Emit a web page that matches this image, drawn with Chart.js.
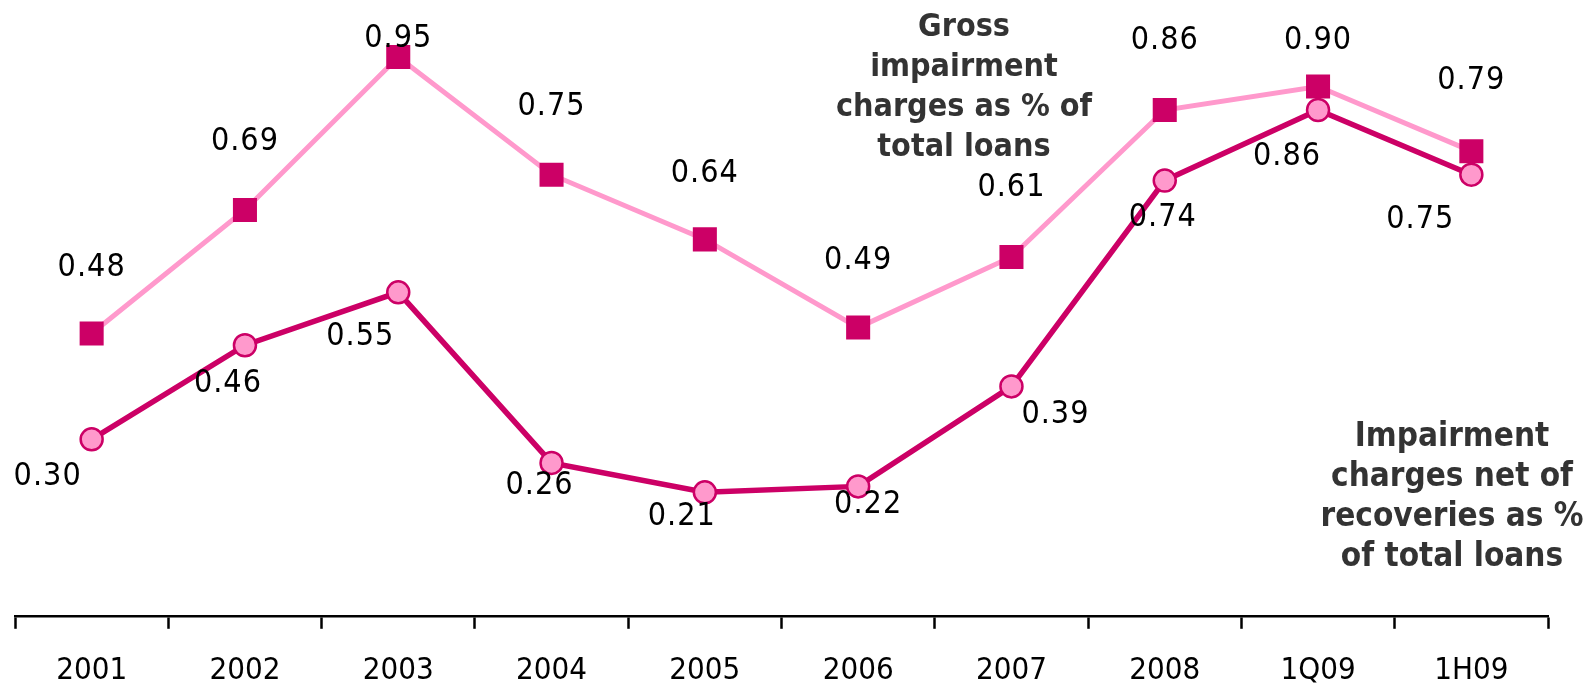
<!DOCTYPE html>
<html>
<head>
<meta charset="utf-8">
<script src="https://cdn.jsdelivr.net/npm/chart.js@4"></script>
<style>
  html, body { margin: 0; padding: 0; background: #fff; }
  #wrap { width: 1592px; height: 689px; position: relative; }
</style>
</head>
<body>
<div id="wrap"><canvas id="chart"></canvas></div>
<script>
const categories = ["2001", "2002", "2003", "2004", "2005", "2006", "2007", "2008", "1Q09", "1H09"];
const grossCharges = [0.48, 0.69, 0.95, 0.75, 0.64, 0.49, 0.61, 0.86, 0.90, 0.79];
const netCharges = [0.30, 0.46, 0.55, 0.26, 0.21, 0.22, 0.39, 0.74, 0.86, 0.75];
const grossNote = ["Gross", "impairment", "charges as % of", "total loans"];
const netNote = ["Impairment", "charges net of", "recoveries as %", "of total loans"];

// label offsets from each point (pixels)
const grossLabelOffset = [[0, -66], [0, -68], [0, -18], [0, -68], [0, -66], [0, -67], [0, -69], [0, -69], [0, -46], [0, -70]];
const netLabelOffset = [[-44, 37], [-17, 38], [-38, 44], [-12, 23], [-23, 24], [10, 18], [44, 28], [-2, 37], [-31, 47], [-51, 45]];

const MAGENTA = "#CC0066";
const PINK = "#FF99CC";
const FONT = "'DejaVu Sans Condensed', 'DejaVu Sans', sans-serif";

const labelPlugin = {
    id: "labels",
    afterDatasetsDraw(chart) {
        const ctx = chart.ctx;
        ctx.save();
        ctx.textAlign = "center";
        ctx.textBaseline = "middle";
        ctx.fillStyle = "#000";
        ctx.font = "32px " + FONT;
        ctx.letterSpacing = "1px";
        const offsets = [grossLabelOffset, netLabelOffset];
        chart.data.datasets.forEach((ds, di) => {
            chart.getDatasetMeta(di).data.forEach((pt, i) => {
                const [dx, dy] = offsets[di][i];
                ctx.fillText(ds.data[i].toFixed(2), pt.x + dx, pt.y + dy);
            });
        });

        ctx.letterSpacing = "0px";
        ctx.fillStyle = "#333";
        ctx.font = "bold 32px " + FONT;
        grossNote.forEach((line, i) => ctx.fillText(line, 964, 28 + i * 40));
        ctx.font = "bold 33px " + FONT;
        netNote.forEach((line, i) => ctx.fillText(line, 1452, 437 + i * 40));
        ctx.restore();
    }
};

new Chart(document.getElementById("chart"), {
    type: "line",
    data: {
        labels: categories,
        datasets: [
            {
                label: "Gross impairment charges as % of total loans",
                data: grossCharges,
                borderColor: PINK,
                borderWidth: 5,
                pointStyle: "rect",
                pointRadius: 17,
                pointBackgroundColor: MAGENTA,
                pointBorderColor: MAGENTA,
                pointBorderWidth: 0,
                tension: 0,
                order: 2
            },
            {
                label: "Impairment charges net of recoveries as % of total loans",
                data: netCharges,
                borderColor: MAGENTA,
                borderWidth: 5.5,
                pointStyle: "circle",
                pointRadius: 11,
                pointBackgroundColor: PINK,
                pointBorderColor: MAGENTA,
                pointBorderWidth: 2.5,
                tension: 0,
                order: 1
            }
        ]
    },
    options: {
        responsive: true,
        maintainAspectRatio: false,
        animation: false,
        layout: { autoPadding: false, padding: { left: 15, right: 44, top: 0, bottom: -25 } },
        plugins: {
            legend: { display: false },
            tooltip: { enabled: false }
        },
        scales: {
            x: {
                offset: true,
                grid: {
                    offset: true,
                    drawOnChartArea: false,
                    drawTicks: true,
                    tickLength: 13,
                    tickWidth: 2.5,
                    tickColor: "#000"
                },
                border: { display: true, color: "#000", width: 2.5 },
                ticks: {
                    color: "#000",
                    padding: 24,
                    font: { family: FONT, size: 31 }
                }
            },
            y: {
                display: false,
                min: 0,
                max: 1.047
            }
        }
    },
    plugins: [labelPlugin]
});
</script>
</body>
</html>
